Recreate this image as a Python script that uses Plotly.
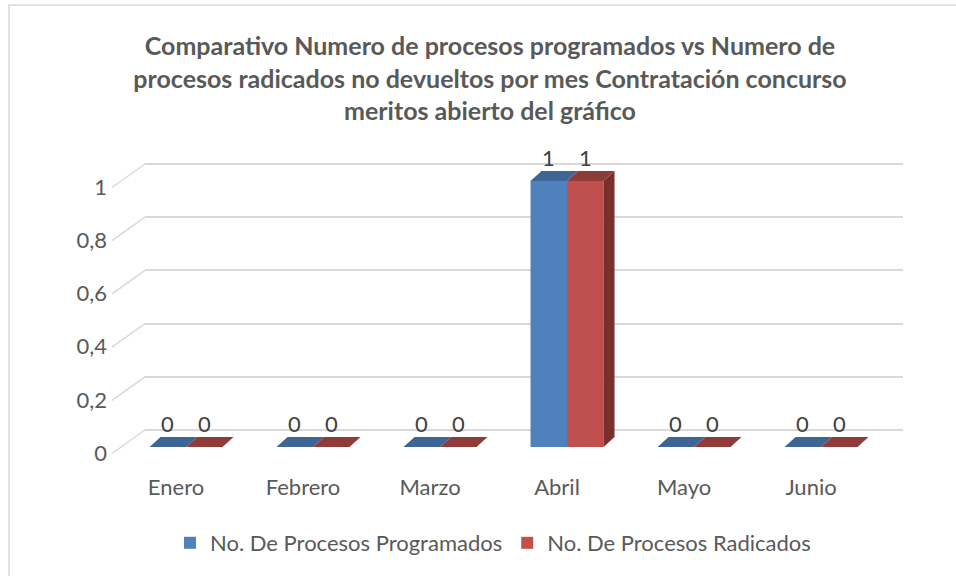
import plotly.graph_objects as go

# Data
meses = ['Enero', 'Febrero', 'Marzo', 'Abril', 'Mayo', 'Junio']
programados = [0, 0, 0, 1, 0, 0]
radicados = [0, 0, 0, 1, 0, 0]
y_ticks = [0, 0.2, 0.4, 0.6, 0.8, 1]
y_labels = ['0', '0,2', '0,4', '0,6', '0,8', '1']

W, H = 956, 576
L, R, T, B = 145, 53, 150, 116
plot_w = W - L - R
plot_h = H - T - B

x_range = [-0.323, -0.323 + plot_w / 127.0]
y_range = [-30 / 266.0, 280 / 266.0]

px_x = (x_range[1] - x_range[0]) / plot_w   # data units per pixel
px_y = (y_range[1] - y_range[0]) / plot_h

d = 17 * px_y          # front face sits lower than back wall
dx = 11 * px_x         # 3D depth
dy = 10 * px_y
bw = 0.2874            # bar width

azul, rojo = '#4F81BD', '#C0504D'
azul_top, rojo_top, rojo_side = '#3D6595', '#8E3B39', '#7A2F2D'
gris = '#595959'
font = 'Lato, Calibri, sans-serif'

xs = list(range(len(meses)))

fig = go.Figure()
fig.add_trace(go.Bar(x=xs, y=programados, base=-d, name='No. De Procesos Programados',
                     marker=dict(color=azul, line=dict(width=0))))
fig.add_trace(go.Bar(x=xs, y=radicados, base=-d, name='No. De Procesos Radicados',
                     marker=dict(color=rojo, line=dict(width=0))))

shapes = []
annotations = []
for i in xs:
    for k, (vals, top) in enumerate([(programados, azul_top), (radicados, rojo_top)]):
        v = vals[i]
        x0 = i - bw if k == 0 else i
        x1 = x0 + bw
        y0 = v - d
        shapes.append(dict(type='path', xref='x', yref='y', layer='above',
                           path=f'M {x0},{y0} L {x1},{y0} L {x1 + dx},{y0 + dy} L {x0 + dx},{y0 + dy} Z',
                           fillcolor=top, line=dict(width=0)))
        if k == 1 and v > 0:
            shapes.append(dict(type='path', xref='x', yref='y', layer='above',
                               path=f'M {x1},{-d} L {x1},{y0} L {x1 + dx},{y0 + dy} L {x1 + dx},{-d + dy} Z',
                               fillcolor=rojo_side, line=dict(width=0)))
        annotations.append(dict(x=(x0 + x1) / 2, y=y0, xref='x', yref='y', text=str(v),
                                showarrow=False, yanchor='middle', yshift=24,
                                font=dict(family=font, size=22, color='#404040')))

# diagonal wall lines at left
for v in y_ticks:
    shapes.append(dict(type='line', xref='paper', yref='y', layer='below',
                       x0=-33 / plot_w, x1=0, y0=v - 23.5 * px_y, y1=v,
                       line=dict(color='#D9D9D9', width=1.5)))

# chart border
shapes.append(dict(type='rect', xref='paper', yref='paper',
                   x0=(9 - L) / plot_w, x1=(1000 - L) / plot_w,
                   y0=-(H + 20 - T - plot_h) / plot_h, y1=1 + (T - 5) / plot_h,
                   line=dict(color='#D9D9D9', width=1.5)))

fig.update_layout(
    width=W, height=H,
    margin=dict(l=L, r=R, t=T, b=B),
    paper_bgcolor='white', plot_bgcolor='white',
    barmode='group', bargap=0.425, bargroupgap=0,
    title=dict(text='Comparativo Numero de procesos programados vs Numero de<br>'
                    'procesos radicados no devueltos por mes Contratación concurso<br>'
                    'meritos abierto del gráfico',
               x=490 / W, xref='container', xanchor='center',
               y=1 - 55 / H, yref='container', yanchor='middle',
               font=dict(family=font, size=25, color=gris, weight='bold')),
    xaxis=dict(range=x_range, tickvals=[i - 10 / 127.0 for i in xs], ticktext=meses,
               showgrid=False, zeroline=False, showline=False, ticks='',
               ticklabelstandoff=12,
               tickfont=dict(family=font, size=22, color=gris)),
    yaxis=dict(range=y_range, tickvals=y_ticks, ticktext=y_labels,
               showgrid=True, gridcolor='#D9D9D9', gridwidth=1.5, zeroline=False,
               showline=False, ticks='', ticklabelstandoff=37, ticklabelshift=23,
               tickfont=dict(family=font, size=22, color=gris)),
    legend=dict(orientation='h', xref='container', x=493 / W, xanchor='center',
                yref='container', y=1 - 543 / H, yanchor='middle',
                font=dict(family=font, size=22, color=gris), itemclick=False),
    shapes=shapes,
    annotations=annotations,
    showlegend=True,
)

fig.write_html('out.html', config={'displayModeBar': False},
               post_script="document.body.style.margin='0';")
